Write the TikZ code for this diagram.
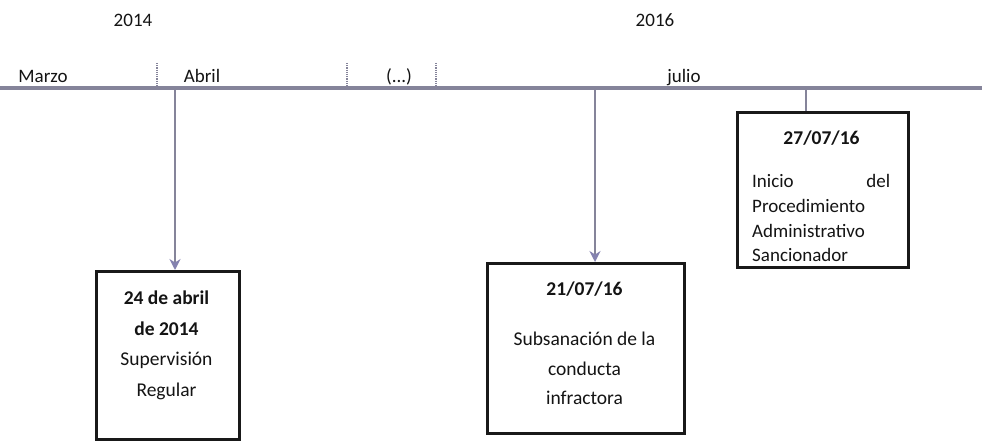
\documentclass[tikz,border=0pt]{standalone}
\usepackage{fontspec}
\setmainfont{Carlito}
\usetikzlibrary{arrows.meta}
\definecolor{tlgray}{HTML}{85849A}
\definecolor{tipcol}{HTML}{8482B0}
\definecolor{txt}{HTML}{141414}
\tikzset{
  lbl/.style={font=\fontsize{19}{22}\selectfont, text=txt, inner sep=0pt, anchor=base},
  boxtxt/.style={font=\fontsize{19.5}{22}\selectfont, text=txt, inner sep=0pt, anchor=base},
  boxbold/.style={boxtxt, font=\fontsize{19.5}{22}\selectfont\bfseries},
  smalltxt/.style={font=\fontsize{19}{22}\selectfont, text=txt, inner sep=0pt, anchor=base west},
  evbox/.style={draw=black!90, line width=3pt, rectangle, inner sep=0pt},
  tick/.style={draw=tlgray, line width=1.2pt, densely dotted},
  tline/.style={draw=tlgray, line width=3.4pt},
  evarrow/.style={draw=tlgray, line width=2.6pt, -{Stealth[length=11pt,width=11pt,fill=tipcol,color=tipcol]}},
  evlink/.style={draw=tlgray, line width=2.6pt}
}
\begin{document}
\begin{tikzpicture}[x=1pt,y=-1pt]
\useasboundingbox (0,0) rectangle (982,441);
\fill[white] (0,0) rectangle (982,441);
% years
\node[lbl] (y14) at (133,27) {2014};
\node[lbl] (y16) at (655,27) {2016};
% timeline
\coordinate (L0) at (0,88);
\coordinate (L1) at (982,88);
\draw[tline] (L0) -- (L1);
% ticks
\coordinate (t1a) at (157,63); \coordinate (t1b) at (157,87);
\coordinate (t2a) at (347,63); \coordinate (t2b) at (347,87);
\coordinate (t3a) at (436,63); \coordinate (t3b) at (436,87);
\draw[tick] (t1a) -- (t1b);
\draw[tick] (t2a) -- (t2b);
\draw[tick] (t3a) -- (t3b);
% month labels
\node[lbl] (marzo) at (43,83) {Marzo};
\node[lbl] (abril) at (202,83) {Abril};
\node[lbl] (dots) at (399,83) {(...)};
\node[lbl] (julio) at (684,83) {julio};
% boxes
\node[evbox, minimum width=143pt, minimum height=168pt, anchor=north west] (b1) at (95,270) {};
\node[evbox, minimum width=197pt, minimum height=170pt, anchor=north west] (b2) at (486,262) {};
\node[evbox, minimum width=171pt, minimum height=155pt, anchor=north west] (b3) at (736,111) {};
% connectors
\coordinate (a1) at (175,90);
\coordinate (a2) at (595,90);
\coordinate (a3) at (806,90);
\draw[evarrow] (a1) -- (a1 |- b1.north);
\draw[evarrow] (a2) -- (a2 |- b2.north);
\draw[evlink] (a3) -- (a3 |- b3.north);
% box 1 text
\node[boxbold] (b1l1) at (166.5,304) {24 de abril};
\node[boxbold] (b1l2) at (166.5,335) {de 2014};
\node[boxtxt] (b1l3) at (166.5,365) {Supervisión};
\node[boxtxt] (b1l4) at (166.5,396) {Regular};
% box 2 text
\node[boxbold] (b2l1) at (584.5,295) {21/07/16};
\node[boxtxt] (b2l2) at (584.5,345) {Subsanación de la};
\node[boxtxt] (b2l3) at (584.5,375) {conducta};
\node[boxtxt] (b2l4) at (584.5,404) {infractora};
% box 3 text
\node[boxbold] (b3l1) at (821.5,144) {27/07/16};
\node[smalltxt] (b3l2) at (752,187) {\makebox[138pt][s]{Inicio\hfill del}};
\node[smalltxt] (b3l3) at (752,212) {Procedimiento};
\node[smalltxt] (b3l4) at (752,237) {Administrativo};
\node[smalltxt] (b3l5) at (752,261) {Sancionador};
\end{tikzpicture}
\end{document}
